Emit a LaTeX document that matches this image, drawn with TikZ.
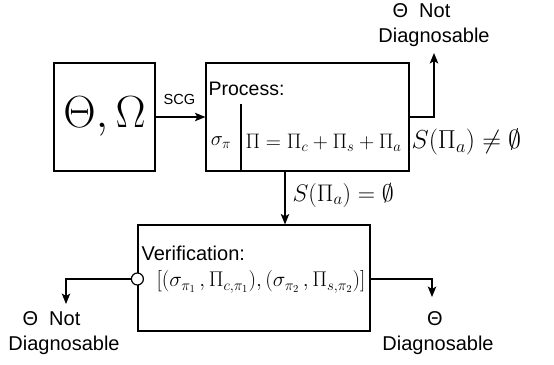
\documentclass[tikz,border=0pt]{standalone}
\usepackage{fix-cm}
\usepackage[no-math]{fontspec}
\setmainfont{Liberation Sans}
\usetikzlibrary{arrows.meta}
\begin{document}
\begin{tikzpicture}[x=1pt,y=-1pt,line width=1.2pt,
  arr/.style={-{Stealth[length=10.5pt,width=8.5pt,inset=2.5pt]}},
  box/.style={draw,rectangle,inner sep=0pt,line width=1.2pt},
  txt/.style={inner sep=0pt,font=\fontsize{20}{24}\selectfont},
  small/.style={inner sep=0pt,font=\fontsize{14.6}{17}\selectfont},
  mth/.style={inner sep=0pt,font=\fontsize{20.5}{24}\selectfont},
  big/.style={inner sep=0pt,font=\fontsize{24}{28}\selectfont}]
\useasboundingbox (0,0) rectangle (554,364);
% boxes
\node[box,minimum width=101pt,minimum height=108pt,font=\fontsize{45}{50}\selectfont] (theta) at (104.5,117) {$\Theta,\Omega$};
\node[box,minimum width=203pt,minimum height=108pt] (process) at (307.5,117) {};
\node[box,minimum width=232pt,minimum height=106pt] (verif) at (254,278) {};
% process contents
\node[txt,anchor=west,font=\fontsize{19.5}{23}\selectfont] (plabel) at (208,89) {Process:};
\coordinate (divtop) at (241,104);
\draw (divtop) -- (divtop |- process.south);
\node[mth] (sigma) at (221,143) {$\sigma_\pi$};
\node[mth,anchor=west,font=\fontsize{21}{24}\selectfont] (pi) at (245,143) {$\Pi=\Pi_c+\Pi_s+\Pi_a$};
% verification contents
\node[txt,anchor=west] (vlabel) at (141,253) {Verification:};
\node[mth,anchor=west,font=\fontsize{21.3}{24}\selectfont] (pairs) at (156,282) {$[(\sigma_{\pi_1}\,,\Pi_{c,\pi_1}),(\sigma_{\pi_2}\,,\Pi_{s,\pi_2})]$};
\node[draw,circle,fill=white,minimum size=12pt,inner sep=0pt,line width=1.2pt] (circ) at (verif.west |- 0,279) {};
% SCG arrow
\draw[arr] (theta.east) -- (process.west);
\node[small] (scg) at (179.5,99) {SCG};
% up arrow
\coordinate (upbend) at (434,117);
\coordinate (uptip) at (434,53);
\draw[arr] (process.east) -- (upbend) -- (uptip);
\node[txt] (notTop) at (421.5,11) {Θ\hspace{11pt}Not};
\node[txt] (diagTop) at (434,37) {Diagnosable};
\node[big,anchor=west,font=\fontsize{26}{30}\selectfont] (neq) at (411,142) {$S(\Pi_a)\neq\emptyset$};
% down arrow
\coordinate (dtop) at (285,0);
\draw[arr] (process.south -| dtop) -- (verif.north -| dtop);
\node[big,anchor=west] (eq) at (292,195) {$S(\Pi_a)=\emptyset$};
% left arrow
\coordinate (lbend) at (66,279);
\coordinate (ltip) at (66,304);
\draw[arr] (circ.west) -- (lbend) -- (ltip);
\node[txt] (notLeft) at (51.5,319) {Θ\hspace{11pt}Not};
\node[txt] (diagLeft) at (64,345) {Diagnosable};
% right arrow
\coordinate (rbend) at (432,279);
\coordinate (rtip) at (432,297);
\draw[arr] (verif.east |- rbend) -- (rbend) -- (rtip);
\node[txt] (thetaRight) at (435,319) {Θ};
\node[txt] (diagRight) at (438,345) {Diagnosable};
\end{tikzpicture}
\end{document}
